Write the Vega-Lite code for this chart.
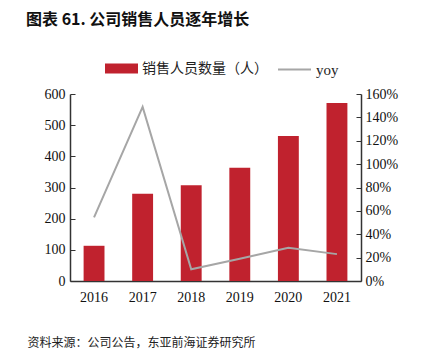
{
  "$schema": "https://vega.github.io/schema/vega-lite/v6.json",
  "autosize": "none",
  "width": 291,
  "height": 187,
  "padding": {"left": 70, "top": 94, "right": 61, "bottom": 79},
  "background": "white",
  "title": {
    "text": "图表 61. 公司销售人员逐年增长",
    "anchor": "start",
    "frame": "group",
    "dx": -44,
    "offset": 24,
    "font": "Noto Sans CJK SC",
    "fontSize": 16,
    "fontWeight": "bold",
    "color": "#111"
  },
  "data": {
    "values": [
      {"year": "2016", "count": 113, "yoy": 0.545},
      {"year": "2017", "count": 280, "yoy": 1.49},
      {"year": "2018", "count": 307, "yoy": 0.10},
      {"year": "2019", "count": 363, "yoy": 0.19},
      {"year": "2020", "count": 465, "yoy": 0.285},
      {"year": "2021", "count": 571, "yoy": 0.23}
    ]
  },
  "encoding": {
    "x": {
      "field": "year",
      "type": "ordinal",
      "scale": {"paddingInner": 0.57, "paddingOuter": 0.28},
      "axis": {
        "title": "资料来源：公司公告，东亚前海证券研究所",
        "titleFont": "Noto Sans CJK SC",
        "titleFontSize": 12,
        "titleFontWeight": "normal",
        "titleColor": "#222",
        "titleAnchor": "start",
        "titleAlign": "left",
        "titleBaseline": "middle",
        "titleX": -43,
        "titleY": 61,
        "labelAngle": 0,
        "labelFont": "Liberation Serif",
        "labelFontSize": 14,
        "labelColor": "#111",
        "labelPadding": 9,
        "ticks": false,
        "domainColor": "#333",
        "domainWidth": 1.5
      }
    }
  },
  "layer": [
    {
      "mark": {"type": "bar", "color": "#C0222E"},
      "encoding": {
        "y": {
          "field": "count",
          "type": "quantitative",
          "scale": {"domain": [0, 600]},
          "axis": {
            "title": null,
            "values": [0, 100, 200, 300, 400, 500, 600],
            "grid": false,
            "labelFont": "Liberation Serif",
            "labelFontSize": 14,
            "labelColor": "#111",
            "labelPadding": 10,
            "tickSize": -5,
            "tickColor": "#333",
            "domainColor": "#333",
            "domainWidth": 1.5
          }
        },
        "fill": {
          "datum": "销售人员数量（人）",
          "type": "nominal",
          "scale": {"range": ["#C0222E"]},
          "legend": {
            "title": null,
            "orient": "none",
            "legendX": 35,
            "legendY": -42,
            "symbolType": "M-1,-0.3H1V0.3H-1Z",
            "symbolSize": 1089,
            "symbolStrokeWidth": 0,
            "labelFont": "Noto Sans CJK SC",
            "labelFontSize": 14,
            "labelColor": "#222"
          }
        }
      }
    },
    {
      "mark": {"type": "line", "color": "#A6A6A6", "strokeWidth": 2},
      "encoding": {
        "y": {
          "field": "yoy",
          "type": "quantitative",
          "scale": {"domain": [0, 1.6]},
          "axis": {
            "title": null,
            "orient": "right",
            "format": ".0%",
            "values": [0, 0.2, 0.4, 0.6, 0.8, 1.0, 1.2, 1.4, 1.6],
            "grid": false,
            "labelFont": "Liberation Serif",
            "labelFontSize": 14,
            "labelColor": "#111",
            "labelPadding": 9,
            "tickSize": -5,
            "tickColor": "#333",
            "domainColor": "#333",
            "domainWidth": 1.5
          }
        },
        "stroke": {
          "datum": "yoy",
          "type": "nominal",
          "scale": {"range": ["#A6A6A6"]},
          "legend": {
            "title": null,
            "orient": "none",
            "legendX": 207,
            "legendY": -42,
            "symbolType": "stroke",
            "symbolSize": 1089,
            "symbolStrokeWidth": 2,
            "labelFont": "Liberation Serif",
            "labelFontSize": 15,
            "labelColor": "#222"
          }
        }
      }
    }
  ],
  "resolve": {"scale": {"y": "independent"}},
  "config": {"view": {"stroke": null}}
}
